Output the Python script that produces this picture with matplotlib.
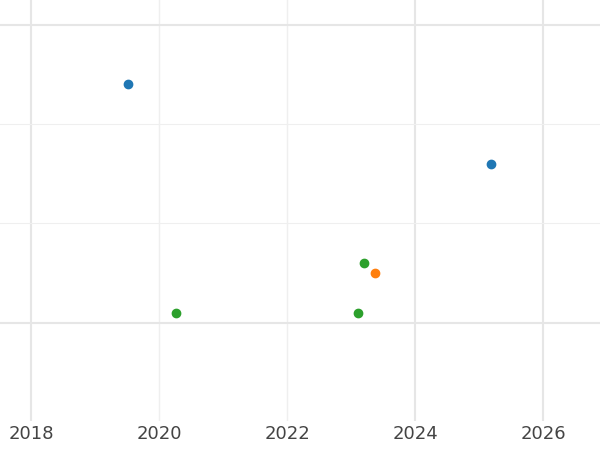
import matplotlib
matplotlib.use("Agg")
import matplotlib.pyplot as plt

blue_x = [2019.52, 2025.19]
blue_y = [2.40, 1.60]
orange_x = [2023.375]
orange_y = [0.50]
green_x = [2023.20, 2020.27, 2023.11]
green_y = [0.60, 0.10, 0.10]
xticks = [2018, 2020, 2022, 2024, 2026]

fig = plt.figure(figsize=(6, 4.5), dpi=100)
ax = fig.add_axes([0, 0.065, 1, 0.935])
ax.set_xlim(2017.516, 2026.89)
ax.set_ylim(-0.99, 3.25)
ax.set_xticks(xticks)
ax.set_yticks([0, 3])
ax.set_yticks([1, 2], minor=True)
ax.grid(True, which='major', color='#e6e6e6', lw=1.5)
ax.grid(True, which='minor', axis='y', color='#efefef', lw=0.8)
ax.set_axisbelow(True)
xl = ax.get_xgridlines()
for i in (1, 2):
    xl[i].set_color('#efefef'); xl[i].set_linewidth(1.0)
for s in ax.spines.values():
    s.set_visible(False)
ax.tick_params(which='both', length=0)
ax.tick_params(axis='x', labelsize=13, labelcolor='#444444', pad=3)
ax.set_yticklabels([])
ax.scatter(blue_x, blue_y, s=36, color='#1f77b4', zorder=3)
ax.scatter(orange_x, orange_y, s=36, color='#ff7f0e', zorder=3)
ax.scatter(green_x, green_y, s=36, color='#2ca02c', zorder=3)
fig.savefig("out.png")
